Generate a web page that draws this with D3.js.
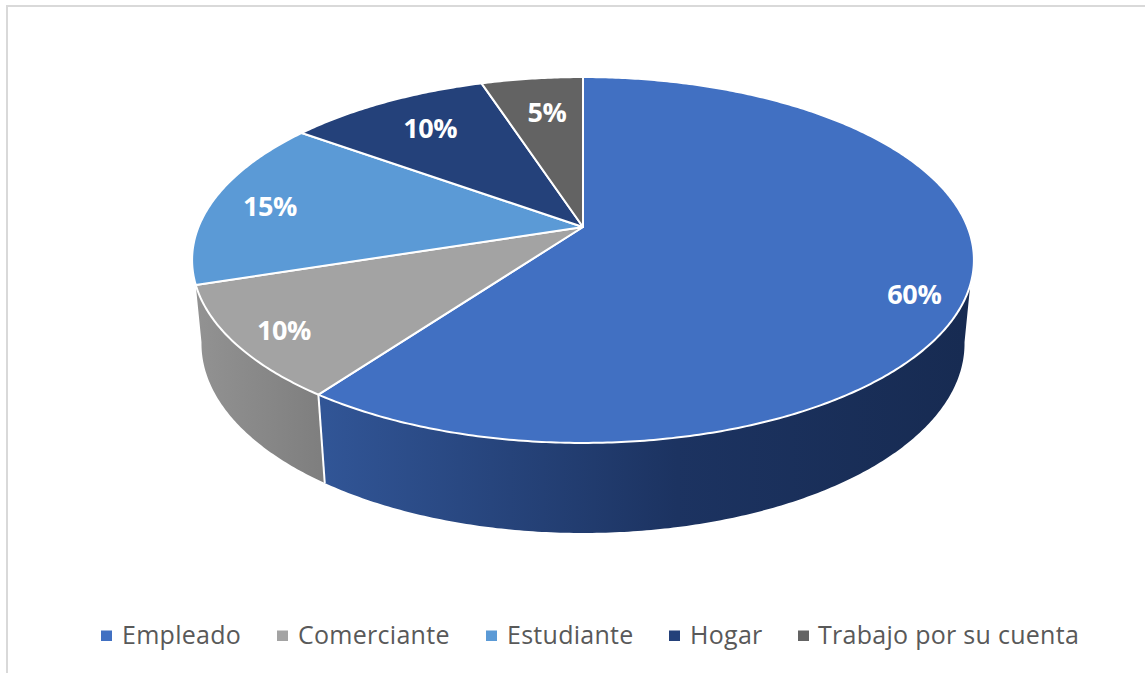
<!DOCTYPE html>
<html><head><meta charset="utf-8">
<script src="https://cdn.jsdelivr.net/npm/d3@7/dist/d3.min.js"></script>
<style>html,body{margin:0;padding:0;background:#fff}svg{display:block}</style>
</head><body><svg id="c" width="1145" height="673"></svg>
<script>
const categories = ["Empleado","Comerciante","Estudiante","Hogar","Trabajo por su cuenta"];
const values = [60,10,15,10,5];
const colors = ["#4170c2","#a3a3a3","#5b9ad6","#24417a","#636363"];

const svg = d3.select("#c");
svg.append("path").attr("d","M7 673V6H1145").attr("fill","none").attr("stroke","#d9d9d9").attr("stroke-width",2);

// perspective projection of the pie disc
const k = 0.1803, ax = 384.5, by = 177, apexX = 583, apexY = 227;
const baseScaleX = 0.976, baseScaleY = 1.035, baseY = 309.5;
const rScale = d3.scaleLinear().domain([0,1]).range([0,1]);
function project(theta, r=1, base=false){
  const u = rScale(r)*Math.sin(theta), v = rScale(r)*Math.cos(theta), d = 1 + k*v;
  return [apexX + (base?baseScaleX:1)*ax*u/d, (base ? baseY : apexY) - (base?baseScaleY:1)*by*v/d];
}
const deg = d3.scaleLinear().domain([0,360]).range([0,2*Math.PI]);
const pie = d3.pie().value(d=>d).sort(null);
const arcs = pie(values);
const line = d3.line();
function samples(a0,a1){
  const n = Math.max(2,Math.ceil(Math.abs(a1-a0)/0.01));
  return d3.range(n+1).map(i=>a0+(a1-a0)*i/n);
}
const defs = svg.append("defs");
const g1 = defs.append("linearGradient").attr("id","w0").attr("gradientUnits","userSpaceOnUse")
  .attr("x1",325).attr("x2",965).attr("y1",0).attr("y2",0);
g1.append("stop").attr("offset",0).attr("stop-color","#315596");
g1.append("stop").attr("offset",0.55).attr("stop-color","#1c3361");
g1.append("stop").attr("offset",1).attr("stop-color","#172b52");
const g2 = defs.append("linearGradient").attr("id","w1").attr("gradientUnits","userSpaceOnUse")
  .attr("x1",197).attr("x2",325).attr("y1",0).attr("y2",0);
g2.append("stop").attr("offset",0).attr("stop-color","#929292");
g2.append("stop").attr("offset",1).attr("stop-color","#7e7e7e");

// side walls: top rim range and base rim range differ at the silhouette edges
const wallRanges = [
  {top:[deg(108), arcs[0].endAngle], base:[deg(100), arcs[0].endAngle]},
  {top:[arcs[0].endAngle, arcs[1].endAngle], base:[arcs[0].endAngle, deg(260)]}
];
wallRanges.forEach((r,i)=>{
  const top = samples(r.top[0],r.top[1]).map(t=>project(t));
  const bot = samples(r.base[0],r.base[1]).map(t=>project(t,1,true)).reverse();
  svg.append("path").attr("d",line(top.concat(bot))+"Z").attr("fill",`url(#w${i})`);
});
svg.append("path").attr("d",line([project(arcs[0].endAngle),project(arcs[0].endAngle,1,true)]))
  .attr("stroke","#fff").attr("stroke-width",2).attr("fill","none");

// top face
arcs.forEach((a,i)=>{
  const pts = [project(0,0)].concat(samples(a.startAngle,a.endAngle).map(t=>project(t)));
  svg.append("path").attr("d",line(pts)+"Z").attr("fill",colors[i])
    .attr("stroke","#fff").attr("stroke-width",2).attr("stroke-linejoin","round");
});

// data labels: placement on the disc
const labelRadius = [0.881,0.879,0.841,0.763,0.744];
const labelShiftDeg = [5.7,-0.8,-0.7,0.6,0.8];
arcs.forEach((a,i)=>{
  const p = project((a.startAngle+a.endAngle)/2 + deg(labelShiftDeg[i]), labelRadius[i]);
  svg.append("text").attr("x",p[0]).attr("y",p[1]).attr("text-anchor","middle").attr("dy","0.36em")
    .attr("font-family","'Open Sans',sans-serif").attr("font-weight",700).attr("font-size",27)
    .attr("letter-spacing",-0.4).attr("fill","#fff").text(values[i]+"%");
});

// legend
const legendStarts = [101,277,486,669,798];
categories.forEach((c,i)=>{
  const x = legendStarts[i];
  svg.append("rect").attr("x",x).attr("y",630.5).attr("width",11).attr("height",10.5).attr("fill",colors[i]);
  svg.append("text").attr("x",x+(i===4?20:21)).attr("y",643.5).attr("font-family","'Open Sans',sans-serif")
    .attr("font-size",25).attr("letter-spacing",0.28).attr("fill","#595959").text(c);
});
</script></body></html>
